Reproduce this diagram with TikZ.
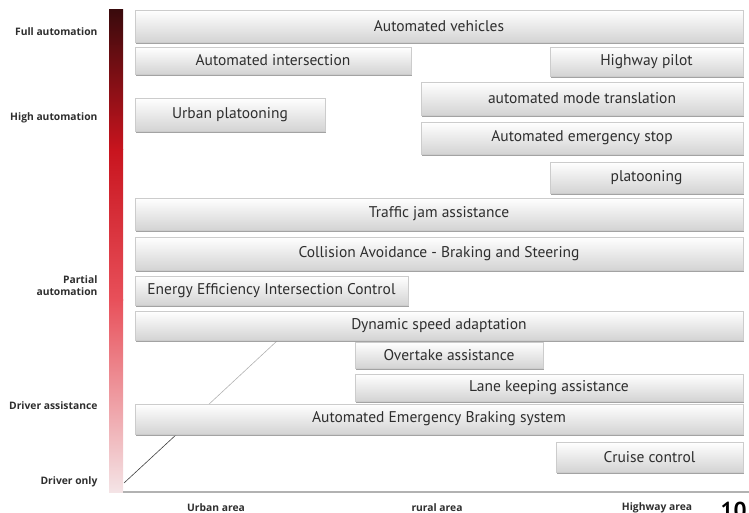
\documentclass[tikz,border=0pt]{standalone}
\usepackage{fontspec}
\setmainfont{PT Sans}
\newfontfamily\labfont{Open Sans}
\usetikzlibrary{shadows}
\definecolor{bardark}{HTML}{3A0A0C}
\definecolor{barred}{HTML}{C8141E}
\definecolor{barmid}{HTML}{E8505A}
\definecolor{barlight}{HTML}{F4E4E6}
\definecolor{ink}{HTML}{2E2E2E}
\tikzset{
  feature/.style={draw=gray!40, line width=0.4pt, top color=white, bottom color=gray!34,
    drop shadow={shadow xshift=1.4pt, shadow yshift=-2pt, fill=gray!85, opacity=0.85}},
  featlabel/.style={font=\fontsize{15.5}{17}\selectfont, text=ink},
  level/.style={font=\labfont\bfseries\fontsize{10.3}{12.2}\selectfont, anchor=east, align=right, text=ink},
  area/.style={font=\labfont\bfseries\fontsize{10.3}{12.2}\selectfont, text=ink},
}
% draw a feature bar spanning corners (x1,y1)-(x2,y2) with its label centred
\newcommand\featbar[6]{%
  \path[feature] (#2,#3) rectangle (#4,#5);
  \node[featlabel] (#1) at ({(#2+#4)/2},{(#3+#5)/2}) {#6};}
\begin{document}
\begin{tikzpicture}[x=1pt,y=-1pt]
\useasboundingbox (0,0) rectangle (749,513);
\clip (0,0) rectangle (749,513);
% automation scale bar
\shade[top color=bardark, bottom color=barred] (109,10) rectangle (123,150);
\shade[top color=barred, bottom color=barmid] (109,149.5) rectangle (123,300);
\shade[top color=barmid, bottom color=barlight] (109,299.5) rectangle (123,492);
% horizontal axis
\draw[gray!60, line width=1.2pt] (123,492) -- (749,492);
% trend line behind the bars
\coordinate (t0) at (124,483);
\coordinate (t1) at (278,340);
\coordinate (tm) at (178,433);
\draw[black!75, line width=0.6pt] (t0) -- (tm);
\draw[gray!60, line width=0.6pt] (tm) -- (t1);
% feature bars
\featbar{av}{135}{10}{743}{42}{Automated vehicles}
\featbar{ai}{135}{47}{411}{74}{Automated intersection}
\featbar{hp}{550}{47}{743}{76}{Highway pilot}
\featbar{up}{135}{98}{325}{131}{Urban platooning}
\featbar{amt}{421}{82}{743}{115}{automated mode translation}
\featbar{aes}{421}{122}{743}{154}{Automated emergency stop}
\featbar{pl}{550}{162}{743}{193}{platooning}
\featbar{tja}{135}{198}{743}{230}{Traffic jam assistance}
\featbar{ca}{135}{237}{743}{270}{Collision Avoidance - Braking and Steering}
\featbar{eei}{135}{276}{408}{305}{Energy Efficiency Intersection Control}
\featbar{dsa}{135}{311}{743}{340}{Dynamic speed adaptation}
\featbar{ot}{355}{342}{543}{368}{Overtake assistance}
\featbar{lk}{355}{374}{743}{401}{Lane keeping assistance}
\featbar{aeb}{135}{404}{743}{434}{Automated Emergency Braking system}
\featbar{cc}{556}{442}{743}{472}{Cruise control}
% automation levels
\node[level] (l5) at (101,32) {Full automation};
\node[level] (l4) at (101,118) {High automation};
\node[level] (l3) at (101,286) {Partial\\automation};
\node[level] (l1) at (101,406) {Driver assistance};
\node[level] (l0) at (101,482) {Driver only};
% areas
\node[area] (ua) at (216,508) {Urban area};
\node[area] (ra) at (437,508) {rural area};
\node[area] (ha) at (657,508) {Highway area};
\node[font=\fontsize{23}{25}\selectfont\bfseries, anchor=west, text=black] (pg) at (717,510) {10};
\end{tikzpicture}
\end{document}
